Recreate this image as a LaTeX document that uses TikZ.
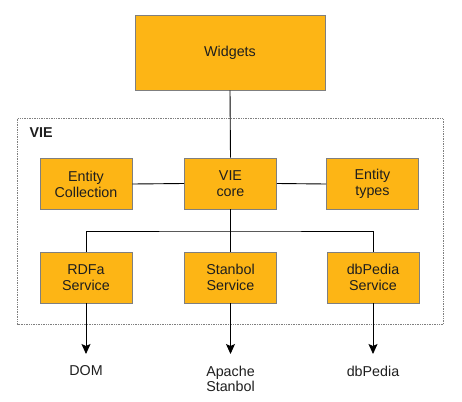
\documentclass[tikz,border=0pt]{standalone}
\usepackage{fontspec}
\setmainfont{Liberation Sans}
\usetikzlibrary{arrows.meta}
\definecolor{boxfill}{HTML}{FDB515}
\definecolor{boxline}{HTML}{7F7F7F}
\definecolor{txt}{HTML}{1E1E1E}
\tikzset{
  comp/.style={draw=boxline, line width=0.9pt, fill=boxfill, text=txt, minimum width=92pt, minimum height=51pt, align=center, inner sep=0pt, font=\fontsize{14.3}{16}\selectfont},
  conn/.style={black, line width=0.9pt},
  arr/.style={conn, -{Stealth[length=10pt,width=9pt,inset=2pt]}},
  ext/.style={text=txt, align=center, font=\fontsize{14.3}{15.5}\selectfont},
}
\begin{document}
\begin{tikzpicture}[x=1pt,y=1pt]
\useasboundingbox (0,0) rectangle (462,-401);
% container
\draw[densely dotted, boxline, line width=0.7pt] (17.5,-118.5) rectangle (443,-324.5);
\node[anchor=west, text=txt, font=\fontsize{14.3}{16}\selectfont\bfseries] (vie) at (26,-133) {VIE};
% boxes
\node[comp, minimum width=190pt, minimum height=75pt] (widgets) at (230,-52.5) {Widgets};
\node[comp] (ec) at (86,-184) {Entity\\Collection};
\node[comp] (core) at (230.5,-183.5) {VIE\\core};
\node[comp] (et) at (372.5,-184) {Entity\\types};
\node[comp] (rdfa) at (86,-277.5) {RDFa\\Service};
\node[comp] (stan) at (230.5,-277.5) {Stanbol\\Service};
\node[comp] (dbp) at (373,-277.5) {dbPedia\\Service};
% external labels
\node[ext] (dom) at (86,-371) {DOM};
\node[ext] (apache) at (230.5,-379) {Apache\\Stanbol};
\node[ext] (dbpl) at (373,-371) {dbPedia};
\coordinate (domtip) at (86,-354);
\coordinate (apachetip) at (230.5,-354);
\coordinate (dbptip) at (373,-354);
% connectors
\draw[conn] (widgets.south) -- (core.north);
\draw[conn] (ec.east) -- (core.west);
\draw[conn] (core.east) -- (et.west);
\draw[conn] (core.south) -- (stan.north);
\coordinate (bar) at (230.5,-231);
\draw[conn] (rdfa.north) |- (bar) -| (dbp.north);
\draw[arr] (rdfa.south) -- (domtip);
\draw[arr] (stan.south) -- (apachetip);
\draw[arr] (dbp.south) -- (dbptip);
\end{tikzpicture}
\end{document}
